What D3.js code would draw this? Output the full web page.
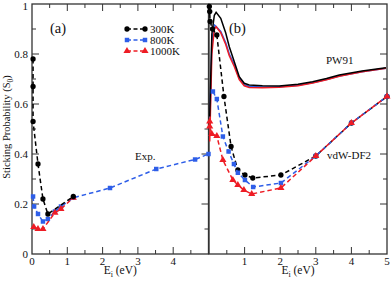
<!DOCTYPE html>
<html><head><meta charset="utf-8">
<script src="https://cdn.jsdelivr.net/npm/d3@7"></script>
<style>body{margin:0;background:#fff}svg{display:block}text{font-family:"Liberation Serif","DejaVu Serif",serif;fill:#111}</style>
</head><body><svg id="c" width="392" height="282"></svg>
<script>
// Panel (a): experiment
const expX300 = [0.03, 0.03, 0.03, 0.17, 0.31, 0.45, 1.17];
const expY300 = [0.78, 0.67, 0.53, 0.36, 0.22, 0.16, 0.23];
const expX800 = [0.03, 0.06, 0.17, 0.31, 0.45, 0.65, 0.82, 1.17, 2.21, 3.52, 4.62, 5.0];
const expY800 = [0.23, 0.19, 0.16, 0.13, 0.14, 0.17, 0.19, 0.225, 0.264, 0.34, 0.378, 0.40];
const expX1000 = [0.05, 0.17, 0.31, 0.65, 0.82, 1.17];
const expY1000 = [0.108, 0.10, 0.10, 0.165, 0.18, 0.225];
// Panel (b): PW91 (solid)
const pwX = [0.02, 0.08, 0.15, 0.2, 0.33, 0.47, 0.57, 0.71, 0.85, 0.99, 1.13, 1.5, 1.97, 2.5, 2.91, 3.3, 3.66, 4.3, 4.97];
const pwY300 = [0.55, 0.88, 0.955, 0.967, 0.943, 0.884, 0.829, 0.769, 0.709, 0.683, 0.676, 0.673, 0.672, 0.679, 0.689, 0.702, 0.716, 0.732, 0.745];
const pwY800 = [0.5, 0.85, 0.916, 0.91, 0.89, 0.845, 0.8, 0.757, 0.703, 0.677, 0.67, 0.668, 0.669, 0.675, 0.685, 0.698, 0.712, 0.729, 0.743];
const pwY1000 = [0.45, 0.8, 0.9, 0.909, 0.885, 0.838, 0.793, 0.75, 0.698, 0.673, 0.666, 0.665, 0.667, 0.673, 0.684, 0.697, 0.711, 0.729, 0.743];
// Panel (b): vdW-DF2 (dashed)
const vdwX300 = [0.01, 0.02, 0.03, 0.1, 0.22, 0.42, 0.62, 0.81, 1.01, 1.23, 2.02, 3.0, 4.0, 5.0];
const vdwY300 = [0.99, 0.97, 0.93, 0.90, 0.876, 0.63, 0.43, 0.336, 0.316, 0.304, 0.316, 0.392, 0.524, 0.63];
const vdwX800 = [0.11, 0.22, 0.39, 0.55, 0.7, 0.81, 1.01, 1.24, 2.02, 3.0, 4.0, 5.0];
const vdwY800 = [0.65, 0.62, 0.47, 0.41, 0.36, 0.325, 0.296, 0.268, 0.284, 0.392, 0.524, 0.63];
const vdwX1000 = [0.02, 0.02, 0.08, 0.22, 0.39, 0.67, 0.81, 0.98, 1.2, 2.02, 3.0, 4.0, 5.0];
const vdwY1000 = [0.53, 0.51, 0.48, 0.472, 0.376, 0.296, 0.276, 0.256, 0.24, 0.264, 0.392, 0.524, 0.63];

const legendLabels = ["300K", "800K", "1000K"];
const colors = ["#000000", "#2e5ee8", "#ee1c24"];
const shapes = [d3.symbolCircle, d3.symbolSquare, d3.symbolTriangle];
const yTicks = [0, 0.2, 0.4, 0.6, 0.8, 1];
const yTickLabels = ["0", "0.2", "0.4", "0.6", "0.8", "1"];

const svg = d3.select("#c");
const y = d3.scaleLinear().domain([0, 1]).range([254, 4]);
const xa = d3.scaleLinear().domain([0, 5]).range([32, 208.5]);
const xb = d3.scaleLinear().domain([0, 5]).range([209, 387]);

function zip(xs, ys){ return xs.map((v,i)=>[v, ys[i]]); }

function frame(x, showLeftTicks, xLabels){
  const g = svg.append("g");
  const [x0, x1] = x.range();
  const minorX = d3.range(0, 5.01, 0.5);
  minorX.forEach(v=>{
    const major = Math.abs(v - Math.round(v)) < 1e-6;
    const L = major ? 7 : 4;
    if (v <= 0 || v >= 5) return;
    g.append("line").attr("x1", x(v)).attr("x2", x(v)).attr("y1", y(0)).attr("y2", y(0)-L).attr("stroke","#333").attr("stroke-width",1);
    g.append("line").attr("x1", x(v)).attr("x2", x(v)).attr("y1", y(1)).attr("y2", y(1)+L).attr("stroke","#333").attr("stroke-width",1);
  });
  d3.range(0, 1.001, 0.1).forEach(v=>{
    const major = Math.abs(v*5 - Math.round(v*5)) < 1e-6;
    const L = major ? 7 : 4;
    if (v <= 0 || v >= 1) return;
    if (showLeftTicks) g.append("line").attr("x1", x0).attr("x2", x0+L).attr("y1", y(v)).attr("y2", y(v)).attr("stroke","#333").attr("stroke-width",1);
    g.append("line").attr("x1", x1).attr("x2", x1-L).attr("y1", y(v)).attr("y2", y(v)).attr("stroke","#333").attr("stroke-width",1);
  });
  g.append("rect").attr("x", x0).attr("y", y(1)).attr("width", x1-x0).attr("height", y(0)-y(1))
    .attr("fill","none").attr("stroke","#333").attr("stroke-width",1.3);
  xLabels.forEach(v=>{
    g.append("text").attr("x", x(v)).attr("y", 265).attr("text-anchor","middle").attr("font-size",11).text(String(v));
  });
  const xl = g.append("text").attr("x", (x0+x1)/2).attr("y", 274).attr("text-anchor","middle").attr("font-size",11.5);
  xl.append("tspan").text("E");
  xl.append("tspan").attr("dy",3).attr("font-size",8).text("i");
  xl.append("tspan").attr("dy",-3).text(" (eV)");
}

frame(xa, true, [0,1,2,3,4]);
frame(xb, false, [1,2,3,4,5]);

yTicks.forEach((v,i)=>{
  svg.append("text").attr("x", 28).attr("y", Math.max(y(v)+4, 10)).attr("text-anchor","end").attr("font-size",11).text(yTickLabels[i]);
});
const yl = svg.append("text").attr("transform","translate(10,127) rotate(-90)").attr("text-anchor","middle").attr("font-size",10.5);
yl.append("tspan").text("Sticking Probability (S");
yl.append("tspan").attr("dy",3).attr("font-size",7.5).text("0");
yl.append("tspan").attr("dy",-3).text(")");

function series(x, data, color, shape, dashed, markers, size){
  const line = d3.line().x(d=>x(d[0])).y(d=>y(d[1]));
  svg.append("path").datum(data).attr("d", line).attr("fill","none").attr("stroke", color)
    .attr("stroke-width", 1.5).attr("stroke-dasharray", dashed ? "4.5,3" : null);
  if (markers){
    svg.append("g").selectAll("path").data(data).join("path")
      .attr("transform", d=>`translate(${x(d[0])},${y(d[1])})`)
      .attr("d", d3.symbol().type(shape).size(size)).attr("fill", color);
  }
}
const msz = [22, 20, 22];
series(xa, zip(expX800, expY800), colors[1], shapes[1], true, true, msz[1]);
series(xa, zip(expX1000, expY1000), colors[2], shapes[2], true, true, msz[2]);
series(xa, zip(expX300, expY300), colors[0], shapes[0], true, true, msz[0]);
series(xb, zip(pwX, pwY800), colors[1], null, false, false);
series(xb, zip(pwX, pwY1000), colors[2], null, false, false);
series(xb, zip(pwX, pwY300), colors[0], null, false, false);
series(xb, zip(vdwX300, vdwY300), colors[0], shapes[0], true, true, msz[0]);
series(xb, zip(vdwX800, vdwY800), colors[1], shapes[1], true, true, msz[1]);
series(xb, zip(vdwX1000, vdwY1000), colors[2], shapes[2], true, true, msz[2]);

legendLabels.forEach((t,i)=>{
  const yy = 29 + i*11;
  svg.append("line").attr("x1",127).attr("x2",145).attr("y1",yy).attr("y2",yy).attr("stroke",colors[i]).attr("stroke-width",1.5).attr("stroke-dasharray","4,2.5");
  [127,145].forEach(xx=>svg.append("path").attr("transform",`translate(${xx},${yy})`).attr("d", d3.symbol().type(shapes[i]).size(msz[i])).attr("fill",colors[i]));
  svg.append("text").attr("x",150).attr("y",yy+4).attr("font-size",11).text(t);
});

svg.append("text").attr("x",50).attr("y",33).attr("font-size",14.5).text("(a)");
svg.append("text").attr("x",229).attr("y",33).attr("font-size",14.5).text("(b)");
svg.append("text").attr("x",135).attr("y",160).attr("font-size",11).text("Exp.");
svg.append("text").attr("x",326).attr("y",64).attr("font-size",11).text("PW91");
svg.append("text").attr("x",327).attr("y",159).attr("font-size",11).text("vdW-DF2");
</script></body></html>
